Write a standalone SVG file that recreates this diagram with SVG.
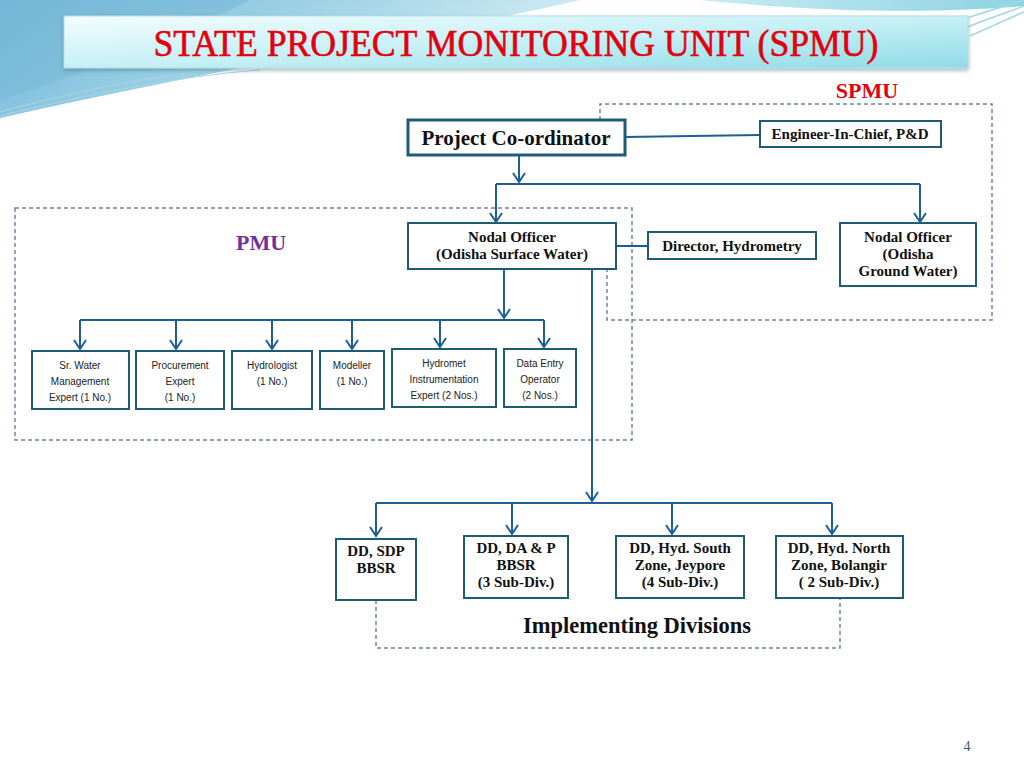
<svg xmlns="http://www.w3.org/2000/svg" width="1024" height="768" viewBox="0 0 1024 768">
<defs>
<linearGradient id="bgL" x1="0" y1="0" x2="1" y2="0.3">
<stop offset="0" stop-color="#6fb4d6"/>
<stop offset="0.5" stop-color="#9ed2e6"/>
<stop offset="1" stop-color="#d6eef5"/>
</linearGradient>
<linearGradient id="bgR" x1="0" y1="0" x2="1" y2="0">
<stop offset="0" stop-color="#c6ecf3"/>
<stop offset="1" stop-color="#8ed3e3"/>
</linearGradient>
<linearGradient id="banner" x1="0" y1="0" x2="1" y2="1">
<stop offset="0" stop-color="#f4fdfe"/>
<stop offset="0.5" stop-color="#c6f0f5"/>
<stop offset="1" stop-color="#8fdbe6"/>
</linearGradient>
<filter id="sh" x="-5%" y="-20%" width="110%" height="150%">
<feDropShadow dx="0" dy="2" stdDeviation="2" flood-color="#3a6f80" flood-opacity="0.5"/>
</filter>
<marker id="ah" viewBox="0 0 12 14" refX="10" refY="7" markerWidth="12" markerHeight="14" markerUnits="userSpaceOnUse" orient="auto">
<path d="M1,1 L10,7 L1,13" fill="none" stroke="#1d5e96" stroke-width="2"/>
</marker>
<style>
.box{fill:#fff;stroke:#1e5c76;stroke-width:2}
.thick{stroke-width:3}
.ln{fill:none;stroke:#1d5e96;stroke-width:2}
.arr{fill:none;stroke:#1d5e96;stroke-width:2;marker-end:url(#ah)}
.dash{fill:none;stroke:#6c88a4;stroke-width:1.5;stroke-dasharray:4 3}
.t{font-family:"Liberation Serif",serif;font-weight:bold;font-size:15px;fill:#111;text-anchor:middle}
.s{font-family:"Liberation Sans",Arial,sans-serif;font-size:10px;fill:#222;text-anchor:middle}
</style>
</defs>

<g id="background">
<rect width="1024" height="768" fill="#ffffff"/>
<path d="M0,0 H580 C430,35 210,70 0,118 Z" fill="url(#bgL)"/>
<path d="M0,0 H250 C170,40 80,75 0,100 Z" fill="#78b9d8" opacity="0.6"/>
<path d="M700,0 H1024 V6 C930,14 820,12 700,0 Z" fill="url(#bgR)"/>
<path d="M960,20 C985,12 1005,6 1024,0 M965,28 C990,18 1008,12 1024,6 M970,36 C992,26 1010,18 1024,12" fill="none" stroke="#9fd8e6" stroke-width="1.5"/>
<path d="M0,112 C80,90 170,72 250,66 M0,116 C90,94 180,76 260,70" fill="none" stroke="#a8d6e6" stroke-width="1"/>
</g>

<g id="title">
<rect x="64" y="16" width="904" height="52" fill="url(#banner)" stroke="#b8dde4" stroke-width="1" filter="url(#sh)"/>
<text x="516" y="56" font-family="Liberation Serif,serif" font-size="38" fill="#e3000f" stroke="#e3000f" stroke-width="0.6" text-anchor="middle" textLength="725" lengthAdjust="spacingAndGlyphs">STATE PROJECT MONITORING UNIT (SPMU)</text>
</g>

<g id="groups">
<path class="dash" d="M600,120 V104 H992 V320 H607 V270"/>
<rect class="dash" x="15" y="208" width="617" height="232"/>
<path class="dash" d="M376,600 V648 H840 V598"/>
<text x="867" y="98" font-family="Liberation Serif,serif" font-weight="bold" font-size="22" fill="#e3000f" text-anchor="middle">SPMU</text>
<text x="261" y="250" font-family="Liberation Serif,serif" font-weight="bold" font-size="22" fill="#7030a0" text-anchor="middle">PMU</text>
<text x="637" y="633" class="t" style="font-size:22.5px">Implementing Divisions</text>
</g>

<g id="connectors">
<path class="ln" d="M625,137 L760,135"/>
<path class="arr" d="M519,155 V182"/>
<path class="ln" d="M496,184 H920"/>
<path class="arr" d="M496,184 V222"/>
<path class="arr" d="M920,184 V222"/>
<path class="ln" d="M616,246 H648"/>
<path class="arr" d="M504,269 V318"/>
<path class="ln" d="M80,320 H544"/>
<path class="arr" d="M80,320 V349"/>
<path class="arr" d="M176,320 V349"/>
<path class="arr" d="M272,320 V349"/>
<path class="arr" d="M352,320 V349"/>
<path class="arr" d="M440,320 V347"/>
<path class="arr" d="M544,320 V347"/>
<path class="arr" d="M592,269 V501"/>
<path class="ln" d="M376,503 H832"/>
<path class="arr" d="M376,503 V536"/>
<path class="arr" d="M512,503 V534"/>
<path class="arr" d="M672,503 V534"/>
<path class="arr" d="M832,503 V534"/>
</g>

<g id="project-coordinator">
<rect class="box thick" x="408" y="120" width="217" height="35"/>
<text class="t" x="516" y="145" style="font-size:21px">Project Co-ordinator</text>
</g>
<g id="engineer-in-chief">
<rect class="box" x="760" y="121" width="181" height="26"/>
<text class="t" x="850" y="139">Engineer-In-Chief, P&amp;D</text>
</g>
<g id="nodal-surface">
<rect class="box" x="408" y="223" width="208" height="46"/>
<text class="t" x="512" y="242">Nodal Officer</text>
<text class="t" x="512" y="259">(Odisha Surface Water)</text>
</g>
<g id="director-hydrometry">
<rect class="box" x="648" y="232" width="168" height="27"/>
<text class="t" x="732" y="251">Director, Hydrometry</text>
</g>
<g id="nodal-ground">
<rect class="box" x="840" y="223" width="136" height="63"/>
<text class="t" x="908" y="242">Nodal Officer</text>
<text class="t" x="908" y="259">(Odisha</text>
<text class="t" x="908" y="276">Ground Water)</text>
</g>

<g id="sr-water">
<rect class="box" x="32" y="351" width="97" height="58"/>
<text class="s" x="80" y="369">Sr. Water</text>
<text class="s" x="80" y="385">Management</text>
<text class="s" x="80" y="401">Expert (1 No.)</text>
</g>
<g id="procurement">
<rect class="box" x="136" y="351" width="88" height="58"/>
<text class="s" x="180" y="369">Procurement</text>
<text class="s" x="180" y="385">Expert</text>
<text class="s" x="180" y="401">(1 No.)</text>
</g>
<g id="hydrologist">
<rect class="box" x="232" y="351" width="80" height="58"/>
<text class="s" x="272" y="369">Hydrologist</text>
<text class="s" x="272" y="385">(1 No.)</text>
</g>
<g id="modeller">
<rect class="box" x="320" y="351" width="64" height="58"/>
<text class="s" x="352" y="369">Modeller</text>
<text class="s" x="352" y="385">(1 No.)</text>
</g>
<g id="hydromet">
<rect class="box" x="392" y="349" width="104" height="58"/>
<text class="s" x="444" y="367">Hydromet</text>
<text class="s" x="444" y="383">Instrumentation</text>
<text class="s" x="444" y="399">Expert  (2 Nos.)</text>
</g>
<g id="data-entry">
<rect class="box" x="504" y="349" width="72" height="58"/>
<text class="s" x="540" y="367">Data Entry</text>
<text class="s" x="540" y="383">Operator</text>
<text class="s" x="540" y="399">(2 Nos.)</text>
</g>

<g id="dd-sdp">
<rect class="box" x="336" y="539" width="80" height="61"/>
<text class="t" x="376" y="556">DD, SDP</text>
<text class="t" x="376" y="573">BBSR</text>
</g>
<g id="dd-dap">
<rect class="box" x="464" y="536" width="104" height="62"/>
<text class="t" x="516" y="553">DD, DA &amp; P</text>
<text class="t" x="516" y="570">BBSR</text>
<text class="t" x="516" y="587">(3 Sub-Div.)</text>
</g>
<g id="dd-south">
<rect class="box" x="616" y="536" width="128" height="62"/>
<text class="t" x="680" y="553">DD, Hyd. South</text>
<text class="t" x="680" y="570">Zone, Jeypore</text>
<text class="t" x="680" y="587">(4 Sub-Div.)</text>
</g>
<g id="dd-north">
<rect class="box" x="776" y="536" width="127" height="62"/>
<text class="t" x="839" y="553">DD, Hyd. North</text>
<text class="t" x="839" y="570">Zone, Bolangir</text>
<text class="t" x="839" y="587">( 2 Sub-Div.)</text>
</g>

<text x="967" y="751" font-family="Liberation Serif,serif" font-size="14" fill="#3b5a6e" text-anchor="middle">4</text>
</svg>
